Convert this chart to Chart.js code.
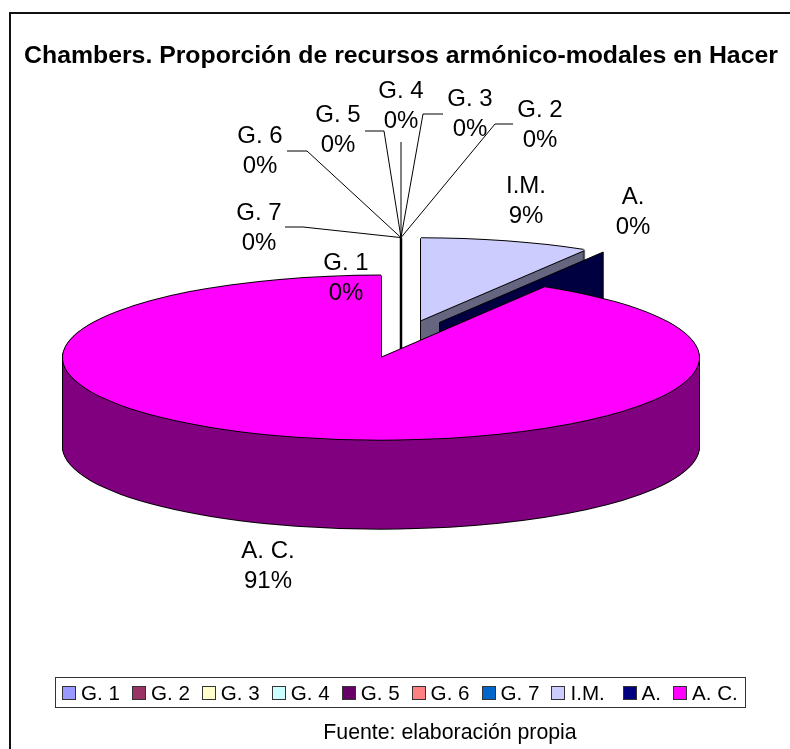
<!DOCTYPE html>
<html>
<head>
<meta charset="utf-8">
<title>Chambers</title>
<script src="https://cdn.jsdelivr.net/npm/chart.js@4"></script>
<style>
  html, body { margin: 0; padding: 0; background: #fff; }
  #page { position: relative; width: 790px; height: 749px; overflow: hidden; font-family: "Liberation Sans", Arial, sans-serif; }
  canvas { position: absolute; left: 0; top: 0; }
  #frame { position: absolute; left: 9px; top: 12px; right: 0; bottom: 0; border-left: 2px solid #111; border-top: 2px solid #111; pointer-events: none; }
  #legend { position: absolute; left: 55px; top: 677px; width: 679.7px; height: 29px; padding: 0 3px 0 6px; border: 1.5px solid #333; display: flex; align-items: center; font-size: 20.6px; color: #000; white-space: pre; }
  #legend .item { display: flex; align-items: center; margin-right: 12px; }
  #legend .item:last-child { margin-right: 0; }
  #legend .swatch { width: 12px; height: 12px; border: 1px solid #333; margin-right: 5px; }
</style>
</head>
<body>
<div id="page">
  <canvas id="chart" width="790" height="749"></canvas>
  <div id="frame"></div>
  <div id="legend"></div>
</div>
<script>
// data
const categories = ["G. 1", "G. 2", "G. 3", "G. 4", "G. 5", "G. 6", "G. 7", "I.M. ", "A.", "A. C."];
const values = [0, 0, 0, 0, 0, 0, 0, 8.6, 0, 91.4];
const sliceColors = ["#9999FF", "#993366", "#FFFFCC", "#CCFFFF", "#660066", "#FF8080", "#0066CC", "#CCCCFF", "#000080", "#FF00FF"];
const sideColors = ["#4D4D80", "#4D1A33", "#808066", "#668080", "#330033", "#804040", "#003366", "#666680", "#000040", "#800080"];

// label placement, same order as categories: centre x, y of first line
const labelSpots = [[346, 263], [540, 110], [470, 99], [401, 91], [338, 115], [260, 136], [259, 213], [526, 186], [633, 197], [268, 551]];
// leader lines for the slices whose label sits away from the pie (bend, end)
const leaders = { 1: [[495, 124], [513, 124]], 2: [[423, 114], [443, 114]], 3: [[401, 142]], 4: [[384, 131], [365, 131]], 5: [[307, 151], [287, 151]], 6: [[303, 227], [285, 227]] };

// 3d look
const CX = 401, CY = 339;
const RX = 318, TILT = 0.258;
const DEPTH = 89;
const EXPLODE = 75;

function sliceOffset(el) {
  const mid = (el.startAngle + el.endAngle) / 2;
  return { x: CX + Math.cos(mid) * EXPLODE, y: CY + Math.sin(mid) * EXPLODE * TILT };
}

function rimPoint(el) {
  const o = sliceOffset(el);
  return { cx: o.x, cy: o.y, x: o.x + Math.cos(el.startAngle) * el.outerRadius, y: o.y + Math.sin(el.startAngle) * el.outerRadius * TILT };
}

// let the library draw the arc, squashed and moved
function paintArc(ctx, el, fill, dx, dy) {
  const saved = el.options;
  const o = sliceOffset(el);
  el.options = { ...saved, backgroundColor: fill, borderWidth: 0 };
  ctx.save();
  ctx.translate(o.x + dx, o.y + dy);
  ctx.scale(1, TILT);
  ctx.translate(-el.x, -el.y);
  el.draw(ctx);
  ctx.restore();
  el.options = saved;
}

function paintSolid(ctx, el, i) {
  for (let d = DEPTH; d > 0; d -= 1) {
    paintArc(ctx, el, "#000", -1, d);
    paintArc(ctx, el, "#000", 1, d);
    paintArc(ctx, el, "#000", 0, d + 1);
  }
  for (let d = DEPTH; d > 0; d -= 1) paintArc(ctx, el, sideColors[i], 0, d);
  paintArc(ctx, el, "#000", -1, 0);
  paintArc(ctx, el, "#000", 1, 0);
  paintArc(ctx, el, "#000", 0, -1);
  paintArc(ctx, el, "#000", 0, 1);
  paintArc(ctx, el, sliceColors[i], 0, 0);
}

const pie3d = {
  id: "pie3d",
  beforeDatasetsDraw(chart) {
    const ctx = chart.ctx;
    const arcs = chart.getDatasetMeta(0).data;

    // empty slices show only as a thin wall
    ctx.save();
    ctx.strokeStyle = "#000";
    ctx.lineWidth = 2.5;
    const g = rimPoint(arcs[1]);
    ctx.beginPath();
    ctx.moveTo(g.x, g.y);
    ctx.lineTo(g.x, g.cy + DEPTH);
    ctx.stroke();
    ctx.restore();

    paintSolid(ctx, arcs[7], 7);

    const a = rimPoint(arcs[8]);
    ctx.save();
    ctx.fillStyle = sideColors[8];
    ctx.strokeStyle = "#000";
    ctx.lineWidth = 1;
    ctx.beginPath();
    ctx.moveTo(a.cx, a.cy);
    ctx.lineTo(a.x, a.y);
    ctx.lineTo(a.x, a.y + DEPTH);
    ctx.lineTo(a.cx, a.cy + DEPTH);
    ctx.closePath();
    ctx.fill();
    ctx.stroke();
    ctx.restore();

    paintSolid(ctx, arcs[9], 9);

    // leaders
    ctx.save();
    ctx.strokeStyle = "#000";
    ctx.lineWidth = 1;
    Object.keys(leaders).forEach(k => {
      const p = rimPoint(arcs[k]);
      ctx.beginPath();
      ctx.moveTo(p.x, p.y);
      leaders[k].forEach(q => ctx.lineTo(q[0], q[1]));
      ctx.stroke();
    });
    ctx.restore();

    // labels
    const total = values.reduce((s, v) => s + v, 0);
    ctx.save();
    ctx.fillStyle = "#000";
    ctx.font = '24px "Liberation Sans"';
    ctx.textAlign = "center";
    ctx.textBaseline = "middle";
    categories.forEach((c, i) => {
      const [x, y] = labelSpots[i];
      ctx.fillText(c.trim(), x, y);
      ctx.fillText(Math.round(values[i] / total * 100) + "%", x, y + 30.5);
    });
    ctx.font = '21.3px "Liberation Sans"';
    ctx.fillText("Fuente: elaboración propia", 450, 733);
    ctx.restore();

    return false; // already drawn
  }
};

const chart = new Chart(document.getElementById("chart"), {
  type: "pie",
  data: {
    labels: categories,
    datasets: [{ data: values, backgroundColor: sliceColors, borderColor: "#000", borderWidth: 1, radius: RX }]
  },
  options: {
    responsive: false,
    animation: false,
    layout: { padding: { left: 12 } },
    plugins: {
      legend: { display: false },
      tooltip: { enabled: false },
      title: {
        display: true,
        text: "Chambers. Proporción de recursos armónico-modales en Hacer",
        color: "#000",
        font: { family: '"Liberation Sans"', size: 24.8, weight: "bold" },
        padding: { top: 41, bottom: 0 }
      }
    }
  },
  plugins: [pie3d]
});

// legend outside the canvas, the gaps are tighter than the built in one allows
const legendBox = document.getElementById("legend");
Chart.overrides.pie.plugins.legend.labels.generateLabels(chart).forEach(item => {
  const row = document.createElement("div");
  row.className = "item";
  const swatch = document.createElement("span");
  swatch.className = "swatch";
  swatch.style.background = item.fillStyle;
  row.appendChild(swatch);
  row.appendChild(document.createTextNode(item.text));
  legendBox.appendChild(row);
});
</script>
</body>
</html>
